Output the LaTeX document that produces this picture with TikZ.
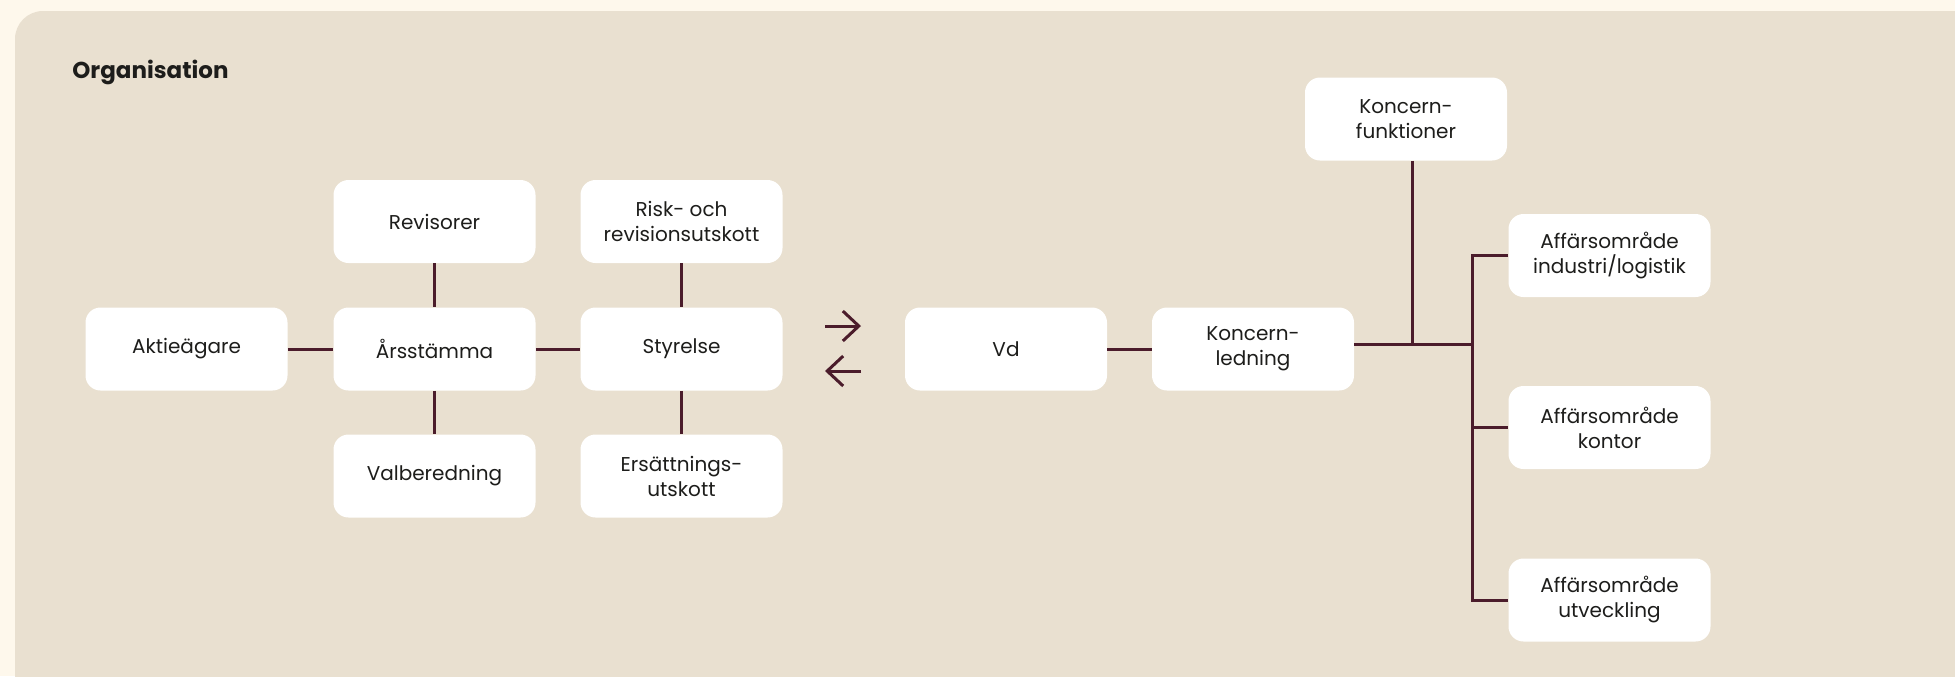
\documentclass[tikz,border=0pt]{standalone}
\usepackage{fontspec}
\setmainfont{Poppins}
\usetikzlibrary{arrows.meta}
\definecolor{outerbg}{HTML}{FEF8EC}
\definecolor{panelbg}{HTML}{E9E0D0}
\definecolor{linec}{HTML}{4B1C2B}
\definecolor{textc}{HTML}{1D1D1B}
\tikzset{
  orgbox/.style={fill=white, rounded corners=7.5pt, minimum width=101pt, minimum height=41.5pt,
    inner sep=0pt, align=center, text=textc, font=\fontsize{10}{12.5}\selectfont},
  conn/.style={draw=linec, line width=1.5pt},
  chev/.style={draw=linec, line width=1.5pt, -{Straight Barb[length=8pt,width=15pt,line width=1.5pt]}}
}
\begin{document}
\begin{tikzpicture}[x=0.5pt,y=-0.5pt]
\useasboundingbox (0,0) rectangle (1955,676);
\clip (0,0) rectangle (1955,676);
\fill[outerbg] (0,0) rectangle (1955,676);
\fill[panelbg, rounded corners=14pt] (15,11) rectangle (1990,720);
\node[anchor=base west, inner sep=0pt, text=textc, font=\bfseries\fontsize{11.5}{14}\selectfont] (title) at (72,78) {Organisation};

\node[orgbox] (akt) at (186.5,349) {Aktieägare};
\node[orgbox] (ars) at (434.5,349) {Årsstämma};
\node[orgbox] (rev) at (434.5,221.5) {Revisorer};
\node[orgbox] (val) at (434.5,476) {Valberedning};
\node[orgbox] (sty) at (681.5,349) {Styrelse};
\node[orgbox] (risk) at (681.5,221.5) {Risk- och\\revisionsutskott};
\node[orgbox] (ers) at (681.5,476) {Ersättnings-\\utskott};
\node[orgbox] (vd) at (1006,349) {Vd};
\node[orgbox] (kl) at (1253,349) {Koncern-\\ledning};
\node[orgbox] (kf) at (1406,119) {Koncern-\\funktioner};
\node[orgbox] (a1) at (1609.5,255.5) {Affärsområde\\industri/logistik};
\node[orgbox] (a2) at (1609.5,427.5) {Affärsområde\\kontor};
\node[orgbox] (a3) at (1609.5,600) {Affärsområde\\utveckling};

\draw[conn] (akt) -- (ars);
\draw[conn] (ars) -- (sty);
\draw[conn] (rev) -- (ars);
\draw[conn] (ars) -- (val);
\draw[conn] (risk) -- (sty);
\draw[conn] (sty) -- (ers);
\draw[conn] (vd) -- (kl);

\coordinate (j1) at (1412.5,344);
\coordinate (j2) at (1472.5,344);
\draw[conn] (kl.east |- j1) -- (j2);
\draw[conn] (kf.south -| j1) -- (j1);
\draw[conn] (a1.west) -| (j2);
\draw[conn] (a1.west -| j2) -- (a3.west -| j2) -- (a3.west);
\draw[conn] (a2.west -| j2) -- (a2.west);

\coordinate (r1s) at (825,326);
\coordinate (r1e) at (861,326);
\coordinate (l1s) at (861,371);
\coordinate (l1e) at (825,371);
\draw[chev] (r1s) -- (r1e);
\draw[chev] (l1s) -- (l1e);
\end{tikzpicture}
\end{document}
